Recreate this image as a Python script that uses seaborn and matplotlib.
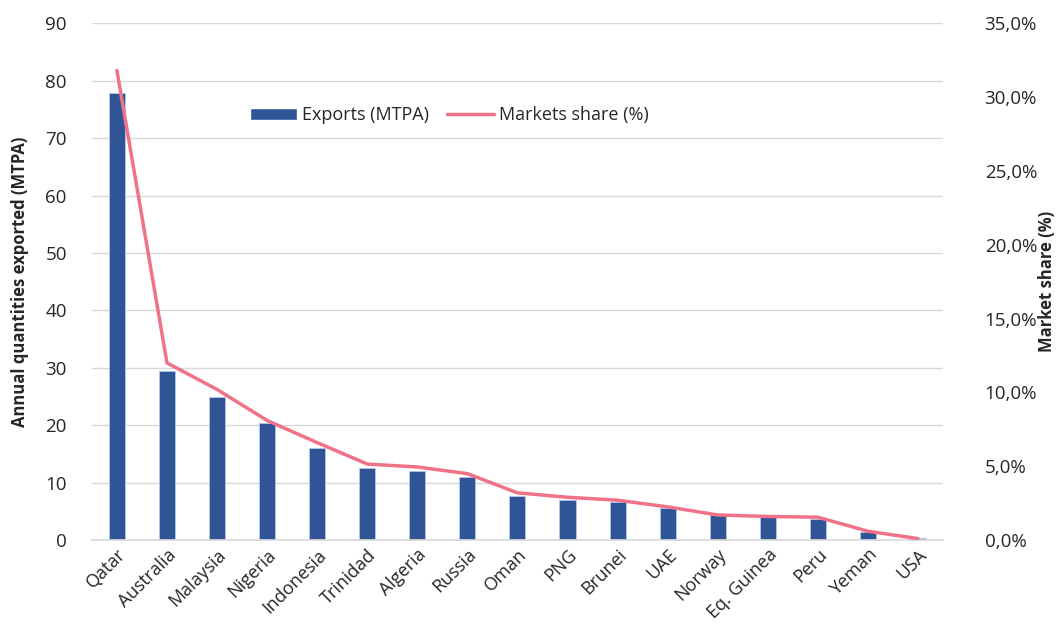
import matplotlib
matplotlib.use("Agg")
import matplotlib.pyplot as plt
import seaborn as sns
import numpy as np
import pandas as pd
from matplotlib.ticker import FuncFormatter, MultipleLocator
from matplotlib.patches import Patch
from matplotlib.lines import Line2D

countries = ["Qatar", "Australia", "Malaysia", "Nigeria", "Indonesia", "Trinidad",
             "Algeria", "Russia", "Oman", "PNG", "Brunei", "UAE", "Norway",
             "Eq. Guinea", "Peru", "Yeman", "USA"]
exports_mtpa = [77.8, 29.4, 24.9, 20.4, 16.0, 12.5, 12.0, 11.0, 7.7, 7.0, 6.6,
                5.5, 4.3, 4.0, 3.6, 1.4, 0.3]
market_share = [31.8, 12.0, 10.2, 8.1, 6.6, 5.15, 4.95, 4.5, 3.2, 2.9, 2.7,
                2.25, 1.7, 1.6, 1.55, 0.6, 0.1]

sns.set_theme(style="white")
plt.rcParams['font.family'] = ['Open Sans', 'DejaVu Sans']

df = pd.DataFrame({"country": countries, "exports": exports_mtpa, "share": market_share})

fig = plt.figure(figsize=(10.56, 6.28), dpi=100)
ax = fig.add_axes([0.087, 0.14, 0.806, 0.823])

bar_color = "#2F5597"
line_color = "#F07288"

sns.barplot(data=df, x="country", y="exports", color=bar_color, width=0.32,
            saturation=1, ax=ax, zorder=2, edgecolor="#B4C7E7", linewidth=0.6)
ax.set_ylim(0, 90)
ax.yaxis.set_major_locator(MultipleLocator(10))
ax.set_xlim(-0.5, len(countries) - 0.5)
ax.grid(axis="y", color="#D9D9D9", linewidth=1, zorder=0)
ax.set_axisbelow(True)
for s in ["top", "right", "left"]:
    ax.spines[s].set_visible(False)
ax.spines["bottom"].set_color("#D9D9D9")
ax.set_xlabel("")
ax.set_ylabel("Annual quantities exported (MTPA)", fontsize=12, fontweight="bold",
              labelpad=12)
ax.tick_params(axis="y", labelsize=13.5, length=0, pad=18)
ax.tick_params(axis="x", labelsize=13, length=0, pad=4)
plt.setp(ax.get_xticklabels(), rotation=45, ha="right", rotation_mode="anchor")

ax2 = ax.twinx()
sns.lineplot(x=np.arange(len(countries)), y=df["share"], color=line_color,
             linewidth=2.5, ax=ax2, zorder=3)
ax2.set_ylim(0, 35)
ax2.yaxis.set_major_locator(MultipleLocator(5))
ax2.yaxis.set_major_formatter(FuncFormatter(lambda v, p: f"{v:.1f}%".replace(".", ",")))
for s in ["top", "right", "left", "bottom"]:
    ax2.spines[s].set_visible(False)
ax2.set_ylabel("Market share (%)", fontsize=12, fontweight="bold")
ax2.yaxis.set_label_coords(1.112, 0.5)
ax2.tick_params(axis="y", labelsize=13.5, length=0, pad=30)
ax2.grid(False)

handles = [Patch(facecolor=bar_color, label="Exports (MTPA)"),
           Line2D([0], [0], color=line_color, linewidth=2.5, label="Markets share (%)")]
ax.legend(handles=handles, loc="center", bbox_to_anchor=(0.42, 0.822), ncol=2,
          frameon=False, fontsize=13, handlelength=2.6, columnspacing=1.0,
          handletextpad=0.3)

fig.savefig("out.png", dpi=100)
